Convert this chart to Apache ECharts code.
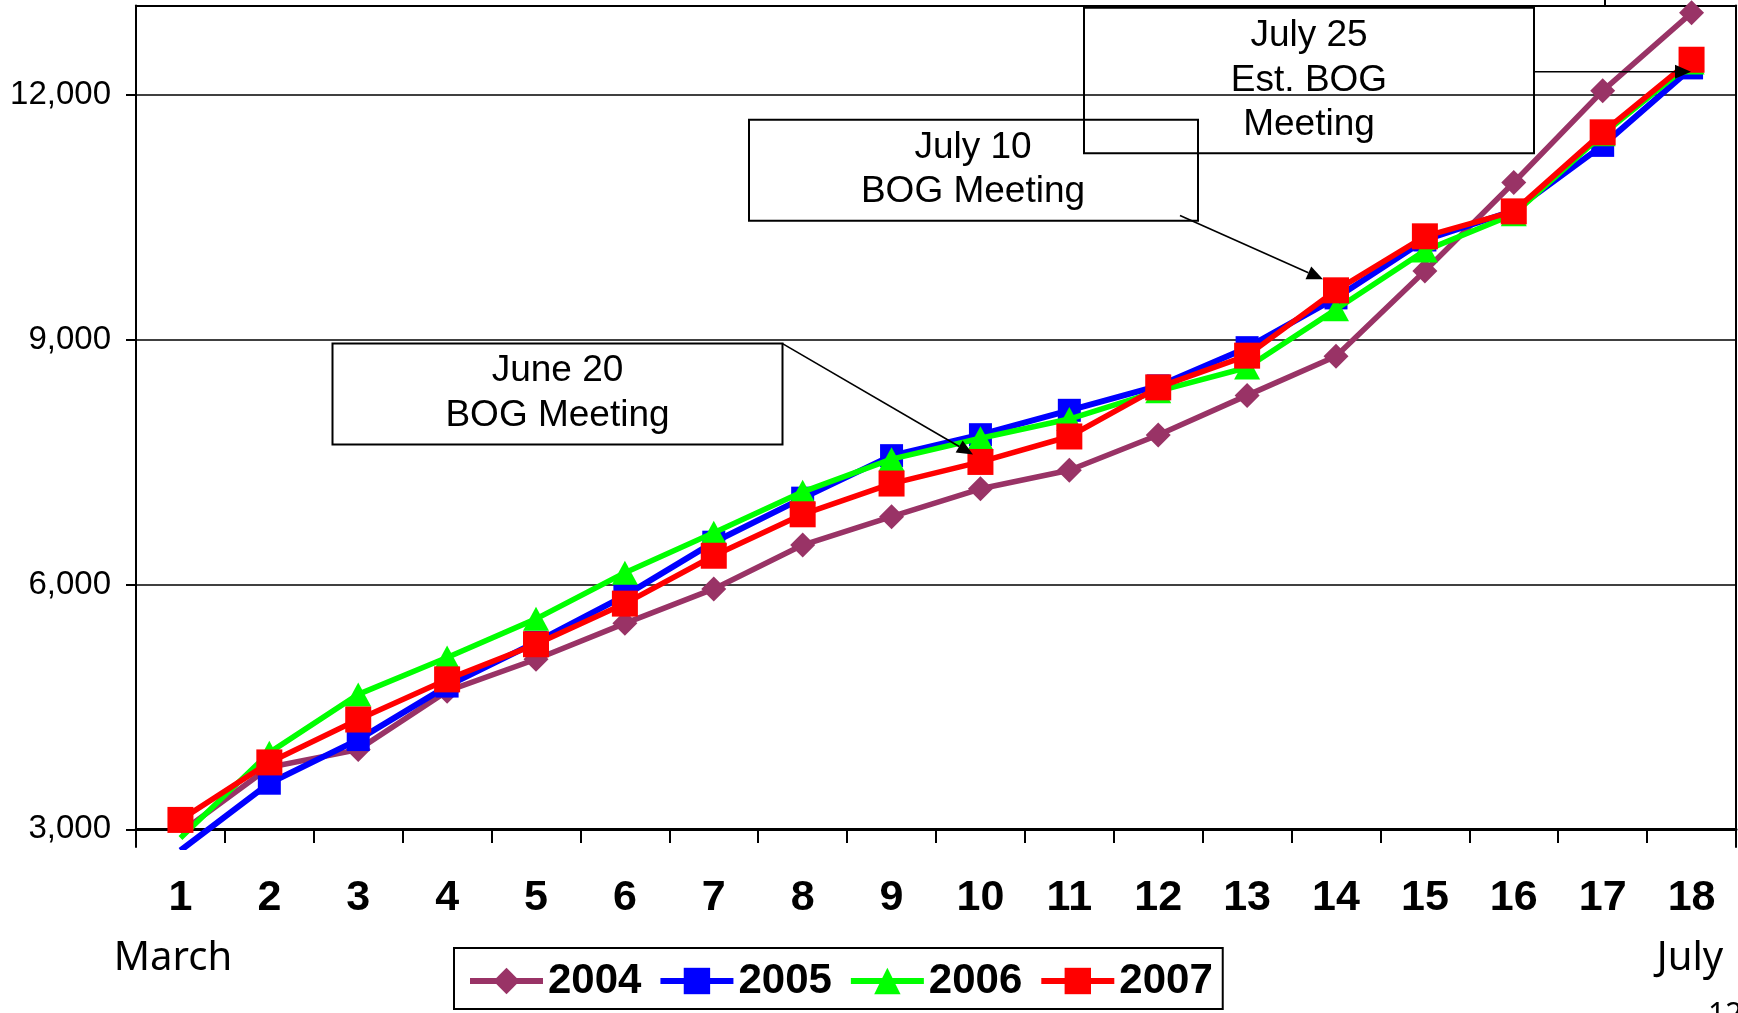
<!DOCTYPE html>
<html>
<head>
<meta charset="utf-8">
<title>Enrollment by week, March to July</title>
<script src="https://cdn.jsdelivr.net/npm/echarts@6/dist/echarts.min.js"></script>
<style>
  html, body { margin: 0; padding: 0; background: #fff; }
  #main { width: 1738px; height: 1013px; }
</style>
</head>
<body>
<div id="main"></div>
<script>
// Week numbers along the bottom (week 1 in March through week 18 in July)
const categories = ['1','2','3','4','5','6','7','8','9','10','11','12','13','14','15','16','17','18'];
const years = ['2004', '2005', '2006', '2007'];

// Cumulative counts per week for each year
const values2004 = [2960, 3760, 3977, 4694, 5085, 5525, 5947, 6485, 6833, 7175, 7402, 7835, 8320, 8800, 9845, 10930, 12054, 13010];
const values2005 = [2740, 3565, 4100, 4756, 5293, 5865, 6520, 7060, 7581, 7838, 8137, 8436, 8905, 9515, 10225, 10586, 11385, 12335];
const values2006 = [2893, 3940, 4654, 5106, 5580, 6145, 6635, 7137, 7538, 7795, 8030, 8372, 8662, 9375, 10095, 10540, 11520, 12400];
const values2007 = [3115, 3820, 4346, 4838, 5269, 5767, 6354, 6862, 7239, 7504, 7816, 8418, 8807, 9608, 10270, 10576, 11545, 12435];

// Labelled value ticks
const yTicks = [3000, 6000, 9000, 12000];

const FONT = "'Liberation Sans', Arial, sans-serif";
const LOW_LIMIT = yTicks[0];

// Points below the lowest labelled value keep their line but get no marker
function markersAboveLimit(vals) {
  return vals.map(v => (v < LOW_LIMIT ? { value: v, symbol: 'none' } : v));
}

const seriesStyles = [
  { color: '#993366', symbol: 'diamond',  symbolSize: 25,       width: 5.5 },
  { color: '#0000FF', symbol: 'rect',     symbolSize: 23,       width: 6 },
  { color: '#00FF00', symbol: 'triangle', symbolSize: [26, 24], width: 5.5 },
  { color: '#FF0000', symbol: 'rect',     symbolSize: 26,       width: 5.5 }
];
const seriesValues = [values2004, values2005, values2006, values2007];

const series = years.map((name, i) => ({
  name: name,
  type: 'line',
  xAxisIndex: 0,
  yAxisIndex: 0,
  data: markersAboveLimit(seriesValues[i]),
  symbol: seriesStyles[i].symbol,
  symbolSize: seriesStyles[i].symbolSize,
  showAllSymbol: true,
  itemStyle: { color: seriesStyles[i].color, opacity: 1 },
  lineStyle: { color: seriesStyles[i].color, width: seriesStyles[i].width },
  emphasis: { disabled: true },
  animation: false,
  z: 2 + i
}));

// Annotation boxes with their connector arrows
function textLine(txt, x, y, size) {
  return {
    type: 'text', x: x, y: y, z: 100,
    style: {
      text: txt, font: size + 'px ' + FONT, fill: '#000',
      align: 'center', verticalAlign: 'middle',
      textAlign: 'center', textVerticalAlign: 'middle'
    }
  };
}
function box(x, y, w, h) {
  return { type: 'rect', z: 100, shape: { x: x, y: y, width: w, height: h },
           style: { fill: 'none', stroke: '#000', lineWidth: 2 } };
}
function arrow(x1, y1, x2, y2) {
  const ang = Math.atan2(y2 - y1, x2 - x1);
  const len = 16, half = 7;
  const bx = x2 - len * Math.cos(ang), by = y2 - len * Math.sin(ang);
  const px = -Math.sin(ang) * half, py = Math.cos(ang) * half;
  return [
    { type: 'line', z: 100, shape: { x1: x1, y1: y1, x2: bx, y2: by },
      style: { stroke: '#000', lineWidth: 1.6 } },
    { type: 'polygon', z: 100, shape: { points: [[x2, y2], [bx + px, by + py], [bx - px, by - py]] },
      style: { fill: '#000' } }
  ];
}

const graphics = [].concat(
  box(332.5, 343.6, 450, 101),
  textLine('June 20', 557.5, 371, 37),
  textLine('BOG Meeting', 557.5, 416, 37),
  arrow(782.5, 343.6, 973, 454.5),

  box(749, 119.7, 449, 101),
  textLine('July 10', 973, 148, 37),
  textLine('BOG Meeting', 973, 192, 37),
  arrow(1180, 215.5, 1323, 279.3),

  box(1084, 7.8, 450, 145.5),
  textLine('July 25', 1309, 36, 37),
  textLine('Est. BOG', 1309, 80.5, 37),
  textLine('Meeting', 1309, 125, 37),
  arrow(1534, 71.7, 1691, 71.7),

  [{ type: 'line', z: 100, shape: { x1: 1605, y1: 0, x2: 1605, y2: 6 },
     style: { stroke: '#000', lineWidth: 2 } }],

  [{ type: 'text', x: 173, y: 959, z: 100,
     style: { text: 'March', font: "40px 'Noto Sans', sans-serif", fill: '#000',
              align: 'center', verticalAlign: 'middle', textAlign: 'center', textVerticalAlign: 'middle' } },
   { type: 'text', x: 1690, y: 959, z: 100,
     style: { text: 'July', font: "40px 'Noto Sans', sans-serif", fill: '#000',
              align: 'center', verticalAlign: 'middle', textAlign: 'center', textVerticalAlign: 'middle' } },
   { type: 'text', x: 1708, y: 1000, z: 100,
     style: { text: '12', font: "30px 'Noto Sans', sans-serif", fill: '#000',
              align: 'left', verticalAlign: 'top', textAlign: 'left', textVerticalAlign: 'top' } }]
);

const chart = echarts.init(document.getElementById('main'), null, { renderer: 'canvas' });

chart.setOption({
  animation: false,
  backgroundColor: '#fff',
  grid: {
    left: 136, right: 2, top: 5.5, bottom: 166,
    containLabel: false,
    outerBoundsMode: 'none'
  },
  legend: {
    data: years,
    left: 454, top: 948,
    orient: 'horizontal',
    borderColor: '#000', borderWidth: 2,
    padding: [12, 10, 7, 13],
    itemGap: 16, itemWidth: 73, itemHeight: 33,
    selectedMode: false,
    lineStyle: { width: 6 },
    textStyle: { fontFamily: FONT, fontWeight: 'bold', fontSize: 42, color: '#000' }
  },
  xAxis: [
    {
      type: 'category',
      data: categories,
      position: 'bottom',
      offset: -18,
      boundaryGap: true,
      axisLine: { show: true, onZero: false, lineStyle: { color: '#000', width: 3 } },
      axisTick: { show: true, inside: false, length: 14, lineStyle: { color: '#000', width: 2 } },
      axisLabel: { interval: 0, margin: 48, fontFamily: FONT, fontWeight: 'bold', fontSize: 43, color: '#000' },
      splitLine: { show: false }
    },
    {
      type: 'category',
      data: categories,
      position: 'top',
      axisLine: { show: true, onZero: false, lineStyle: { color: '#000', width: 2 } },
      axisTick: { show: false },
      axisLabel: { show: false },
      splitLine: { show: false }
    }
  ],
  yAxis: [
    {
      type: 'value',
      position: 'left',
      min: 2783,
      max: 13100,
      axisLine: { show: true, onZero: false, lineStyle: { color: '#000', width: 2 } },
      axisTick: { show: true, inside: false, length: 10, customValues: yTicks, lineStyle: { color: '#000', width: 2 } },
      axisLabel: {
        customValues: yTicks,
        margin: 25,
        fontFamily: FONT, fontSize: 33, color: '#000',
        formatter: v => Number(v).toLocaleString('en-US')
      },
      splitLine: { show: true, lineStyle: { color: '#000', width: 1.7 } }
    },
    {
      type: 'value',
      position: 'right',
      min: 0, max: 1,
      axisLine: { show: true, onZero: false, lineStyle: { color: '#000', width: 2 } },
      axisTick: { show: false },
      axisLabel: { show: false },
      splitLine: { show: false }
    }
  ],
  series: series,
  graphic: graphics
});
</script>
</body>
</html>
